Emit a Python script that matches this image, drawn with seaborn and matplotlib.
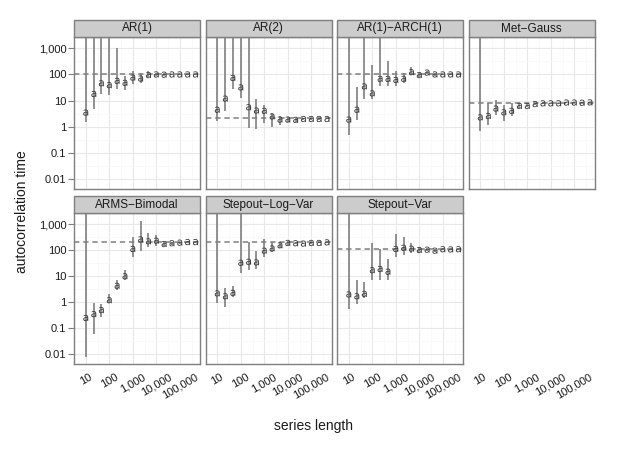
import numpy as np
import pandas as pd
import seaborn as sns
import matplotlib
matplotlib.use('Agg')
import matplotlib.pyplot as plt
from matplotlib.patches import Rectangle

# ------------------------------------------------------------------
# data (upper bound 1e4 = bar runs off the top)
# ------------------------------------------------------------------
TOP = 1e4

series_length = [10, 22, 46, 100, 215, 464, 1000, 2154, 4642,
                 10000, 21544, 46416, 100000, 215443, 464159]

models = ['AR(1)', 'AR(2)', 'AR(1)\u2212ARCH(1)', 'Met\u2212Gauss',
          'ARMS\u2212Bimodal', 'Stepout\u2212Log\u2212Var', 'Stepout\u2212Var']

true_act = [100, 2.1, 100, 8.5, 215, 200, 109]

est = {
    'AR(1)': [3.5, 18, 46, 39, 57, 48, 76, 70, 95, 100, 98, 100, 100, 100, 100],
    'AR(2)': [4.5, 12, 74, 32, 5.6, 4.2, 4.1, 2.5, 1.9, 1.9, 1.85, 2.0, 2.0, 2.0, 2.0],
    'AR(1)\u2212ARCH(1)': [1.9, 4.5, 35, 19, 68, 68, 62, 68, 122, 95, 118, 100, 100, 100, 100],
    'Met\u2212Gauss': [2.3, 2.6, 5.0, 3.6, 4.1, 6.3, 6.3, 7.4, 7.9, 7.9, 7.9, 8.5, 8.5, 8.3, 8.6],
    'ARMS\u2212Bimodal': [0.25, 0.35, 0.5, 1.2, 4.3, 10, 112, 260, 219, 232, 173, 185, 195, 205, 205],
    'Stepout\u2212Log\u2212Var': [2.2, 1.7, 2.3, 33, 36, 34, 96, 117, 154, 190, 185, 180, 190, 190, 200],
    'Stepout\u2212Var': [2.0, 1.7, 2.1, 17, 19, 15, 112, 124, 115, 102, 105, 96, 109, 107, 109],
}
lower = {
    'AR(1)': [1.5, 4.7, 17.8, 16, 28, 26, 44, 46, 77, 85, 88, 92, 94, 96, 97],
    'AR(2)': [1.7, 3.9, 27, 13, 0.9, 0.8, 1.4, 1.0, 1.2, 1.5, 1.6, 1.8, 1.85, 1.9, 1.95],
    'AR(1)\u2212ARCH(1)': [0.5, 1.9, 11.5, 11.5, 35, 37, 37, 47, 95, 80, 100, 90, 92, 94, 96],
    'Met\u2212Gauss': [0.7, 1.2, 2.9, 1.7, 2.5, 5.2, 5.5, 6.6, 7.2, 7.3, 7.5, 8.0, 8.1, 8.0, 8.3],
    'ARMS\u2212Bimodal': [0.0077, 0.059, 0.28, 0.9, 2.9, 6.9, 57, 91, 130, 145, 150, 165, 180, 190, 195],
    'Stepout\u2212Log\u2212Var': [0.95, 0.68, 1.6, 13, 17, 19, 54, 83, 125, 165, 170, 170, 180, 182, 192],
    'Stepout\u2212Var': [0.54, 0.85, 1.4, 7, 7.4, 7, 57, 68, 76, 85, 92, 88, 100, 100, 104],
}
upper = {
    'AR(1)': [TOP, TOP, TOP, TOP, 1050, 90, 132, 112, 137, 118, 112, 108, 106, 104, 103],
    'AR(2)': [TOP, TOP, TOP, TOP, TOP, 11.5, 6.9, 3.5, 2.5, 2.3, 2.2, 2.2, 2.15, 2.1, 2.05],
    'AR(1)\u2212ARCH(1)': [TOP, 32, TOP, 230, TOP, 330, 130, 112, 200, 115, 135, 112, 108, 106, 104],
    'Met\u2212Gauss': [TOP, 8.5, 10.7, 6.9, 7.9, 7.6, 7.2, 8.3, 8.7, 8.5, 8.4, 9.0, 8.9, 8.6, 8.9],
    'ARMS\u2212Bimodal': [TOP, 0.95, 0.89, 2.0, 7.4, 18, 330, 1340, 455, 380, 200, 210, 212, 220, 215],
    'Stepout\u2212Log\u2212Var': [TOP, 3.6, 4.1, TOP, 214, 96, 260, 200, 200, 220, 200, 195, 200, 198, 208],
    'Stepout\u2212Var': [TOP, 7.4, 6.2, 182, 112, 46, 415, 310, 182, 130, 118, 108, 118, 113, 114],
}

y_ticks = [0.01, 0.1, 1, 10, 100, 1000]
y_ticklabels = ['0.01', '0.1', '1', '10', '100', '1,000']
x_ticks = [10, 100, 1000, 10000, 100000]
x_ticklabels = ['10', '100', '1,000', '10,000', '100,000']

rows = []
for m in models:
    for n, e, lo, hi in zip(series_length, est[m], lower[m], upper[m]):
        rows.append({'model': m, 'n': n, 'act': e, 'lo': lo, 'hi': hi})
df = pd.DataFrame(rows)

# ------------------------------------------------------------------
# styling
# ------------------------------------------------------------------
sns.set_style('white')
plt.rcParams['font.family'] = ['Liberation Sans', 'DejaVu Sans']

W, H = 629, 450
col_left = [74, 205.5, 337, 468.5]
col_w = 126
row_top = [37, 213]
row_h = [152, 151]
strip_h = 17
XLIM = (10 ** 0.79, 10 ** 5.86)
YLIM = (10 ** -2.37, 10 ** 3.43)
GREY = '#7f7f7f'
TXT = '#1a1a1a'
minor_y = [10 ** (k + 0.5) for k in range(-3, 4)]
minor_x = [10 ** (k + 0.5) for k in range(0, 6)]


def panel_pos(r, c):
    return [col_left[c] / W, 1 - (row_top[r] + row_h[r]) / H, col_w / W, row_h[r] / H]


def setup_x(ax, show):
    ax.set_xscale('log')
    ax.set_xlim(*XLIM)
    ax.set_xticks(x_ticks)
    ax.set_xticks(minor_x, minor=True)
    if show:
        ax.set_xticklabels(x_ticklabels)
        for lab in ax.get_xticklabels():
            lab.set_rotation(30)
            lab.set_ha('center')
        ax.tick_params(axis='x', which='major', length=4, width=0.8, color=GREY,
                       labelsize=8, labelcolor=TXT, pad=1.5)
    else:
        ax.set_xticklabels([])
        ax.tick_params(axis='x', which='major', length=0)
    ax.tick_params(axis='x', which='minor', length=0, labelbottom=False)


fig = plt.figure(figsize=(W / 100, H / 100), dpi=100)

for i, m in enumerate(models):
    r, c = divmod(i, 4)
    ax = fig.add_axes(panel_pos(r, c))
    sub = df[df['model'] == m]

    ax.set_yscale('log')
    ax.axhline(true_act[i], color=GREY, lw=1.1, dashes=(3.5, 2.5), zorder=1)
    ax.vlines(sub['n'], sub['lo'], sub['hi'], color=GREY, lw=1.2, zorder=2)
    sns.scatterplot(data=sub, x='n', y='act', marker=r'$\mathsf{a}$', s=20,
                    color='#3a3a3a', edgecolor='none', linewidth=0,
                    ax=ax, zorder=3, legend=False)

    setup_x(ax, show=(r == 1))
    ax.set_ylim(*YLIM)
    ax.set_yticks(y_ticks)
    ax.set_yticks(minor_y, minor=True)
    if c == 0:
        ax.set_yticklabels(y_ticklabels)
        ax.tick_params(axis='y', which='major', left=True, length=4, width=0.8, color=GREY,
                       labelsize=8, labelcolor=TXT, pad=1.5)
    else:
        ax.set_yticklabels([])
        ax.tick_params(axis='y', which='major', length=0)
    ax.tick_params(axis='y', which='minor', length=0, labelleft=False)
    ax.set_ylim(*YLIM)

    ax.grid(True, which='major', color='#e8e8e8', lw=0.8)
    ax.grid(True, which='minor', color='#f8f8f8', lw=0.6)
    ax.set_axisbelow(True)
    for sp in ax.spines.values():
        sp.set_color(GREY)
        sp.set_linewidth(1.0)
    ax.set_xlabel('')
    ax.set_ylabel('')

    # facet strip
    sh = strip_h / row_h[r]
    ax.add_patch(Rectangle((0, 1), 1, sh, transform=ax.transAxes, clip_on=False,
                           facecolor='#cccccc', edgecolor=GREY, lw=1.0, zorder=5))
    ax.text(0.5, 1 + sh / 2, m, transform=ax.transAxes, ha='center', va='center',
            fontsize=8.5, color=TXT, zorder=6)

# x axis for the 4th column, drawn at the bottom of the empty slot
axb = fig.add_axes(panel_pos(1, 3))
axb.patch.set_visible(False)
for sp in axb.spines.values():
    sp.set_visible(False)
axb.set_yticks([])
setup_x(axb, show=True)

fig.text(314 / W, 1 - 426 / H, 'series length', ha='center', va='center',
         fontsize=10, color=TXT)
fig.text(22 / W, 1 - 212 / H, 'autocorrelation time', ha='center', va='center',
         rotation=90, fontsize=10, color=TXT)

fig.savefig('out.png', dpi=100)
